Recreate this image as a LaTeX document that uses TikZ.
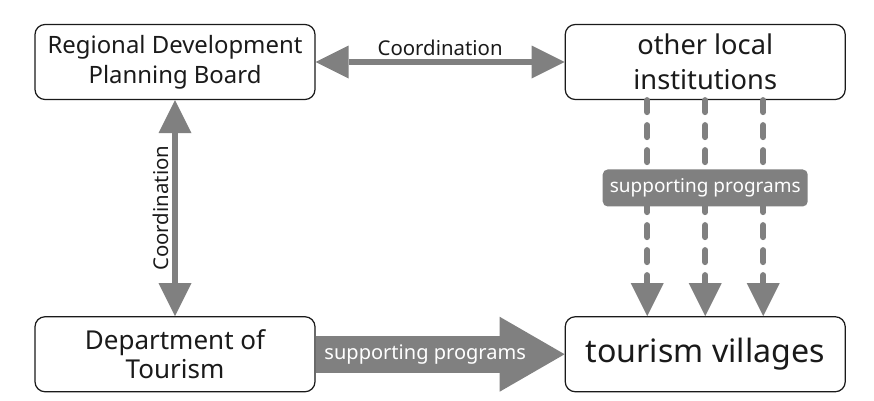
\documentclass[tikz,border=0pt]{standalone}
\usepackage{fontspec}
\setmainfont{Noto Sans}
\usetikzlibrary{arrows.meta, positioning}
\definecolor{ink}{HTML}{1A1A1A}
\definecolor{flow}{HTML}{808080}
\tikzset{
  box/.style    = {draw=ink, line width=0.7pt, rounded corners=0.2cm,
                   fill=white, minimum width=5.6cm, minimum height=1.5cm,
                   align=center, inner sep=0pt, text=ink},
  arr/.style    = {draw=flow, line width=0.12cm, -{Triangle[length=0.66cm, width=0.66cm, line width=0pt]}},
  dblarr/.style = {arr, {Triangle[length=0.66cm, width=0.66cm, line width=0pt]}-{Triangle[length=0.66cm, width=0.66cm, line width=0pt]}},
  darr/.style   = {arr, dash pattern=on 0.24cm off 0.26cm, line cap=round},
  bigarr/.style = {draw=flow, line width=0.74cm,
                   -{Triangle[length=1.3cm, width=1.5cm, line width=0pt]}},
  labl/.style   = {font=\fontsize{11.6}{14}\selectfont, text=ink, inner sep=2pt},
  tag/.style    = {fill=flow, text=white, rounded corners=0.1cm,
                   minimum width=4.1cm, minimum height=0.74cm, inner sep=0pt,
                   font=\fontsize{10.8}{13}\selectfont},
}

\begin{document}
\begin{tikzpicture}
  \useasboundingbox (0,0) rectangle (17.48,-8.02);

  \node[box, font=\fontsize{13.6}{17}\selectfont] (board) at (3.5,-1.24)
    {Regional Development\\Planning Board};
  \node[box, font=\fontsize{15.5}{20}\selectfont, right=4.98cm of board] (others)
    {other local\\institutions};
  \node[box, font=\fontsize{14.8}{16}\selectfont, below=4.32cm of board] (dept)
    {Department of\\Tourism};
  \node[box, font=\fontsize{18.3}{22}\selectfont, below=4.32cm of others] (villages)
    {tourism villages};

  \draw[dblarr] (board) -- (others) node[midway, above, labl] {Coordination};
  \draw[dblarr] (board) -- (dept)
    node[midway, rotate=90, anchor=south, labl] {Coordination};

  \foreach \dx in {-1.16, 0, 1.16}
    \draw[darr] ([xshift=\dx cm]others.south) -- ([xshift=\dx cm]villages.north);
  \node[tag, below=1.38cm of others] (progs) {supporting programs};

  \draw[bigarr] (dept) -- (villages)
    node[pos=0.44, text=white, font=\fontsize{11.4}{14}\selectfont] {supporting programs};

\end{tikzpicture}
\end{document}
